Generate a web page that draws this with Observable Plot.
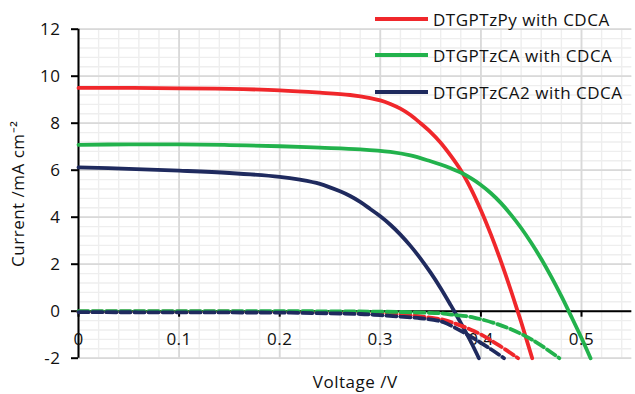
<!DOCTYPE html>
<html><head><meta charset="utf-8">
<script src="https://cdn.jsdelivr.net/npm/d3@7"></script>
<script src="https://cdn.jsdelivr.net/npm/@observablehq/plot@0.6"></script>
<style>
body{margin:0;background:#fff;}
#wrap{position:relative;width:635px;height:394px;font-family:"Open Sans",sans-serif;}
#wrap svg text{letter-spacing:0.5px;}
.leg{position:absolute;left:375px;height:36px;display:flex;align-items:center;font-size:17px;letter-spacing:0.5px;color:#111;white-space:nowrap;}
.leg .sw{display:inline-block;width:53px;height:4px;margin-right:5px;}
</style></head><body><div id="wrap"></div>
<script>
// Illuminated J-V curves (solid)
const redV   = [0, 0.05, 0.1, 0.15, 0.2, 0.24, 0.27, 0.29, 0.30, 0.31, 0.32, 0.33, 0.34, 0.35, 0.36, 0.37, 0.38, 0.39, 0.40, 0.41, 0.42, 0.43, 0.4365, 0.44, 0.451];
const redJ   = [9.5, 9.5, 9.48, 9.46, 9.40, 9.30, 9.2, 9.07, 8.97, 8.82, 8.62, 8.35, 8.0, 7.62, 7.17, 6.62, 6.0, 5.22, 4.30, 3.26, 2.11, 0.86, 0, -0.46, -2];
const greenV = [0, 0.05, 0.1, 0.15, 0.2, 0.24, 0.28, 0.31, 0.33, 0.35, 0.36, 0.37, 0.38, 0.39, 0.40, 0.41, 0.42, 0.43, 0.44, 0.45, 0.46, 0.47, 0.48, 0.49, 0.50, 0.509];
const greenJ = [7.08, 7.1, 7.1, 7.07, 7.02, 6.96, 6.89, 6.78, 6.63, 6.38, 6.24, 6.08, 5.9, 5.66, 5.37, 5.02, 4.6, 4.1, 3.54, 2.91, 2.22, 1.46, 0.64, -0.24, -1.14, -2];
const navyV  = [0, 0.05, 0.1, 0.15, 0.2, 0.22, 0.24, 0.26, 0.27, 0.28, 0.29, 0.30, 0.31, 0.32, 0.33, 0.34, 0.35, 0.36, 0.37, 0.3735, 0.38, 0.39, 0.398];
const navyJ  = [6.12, 6.06, 5.98, 5.88, 5.72, 5.6, 5.42, 5.1, 4.9, 4.65, 4.35, 4.04, 3.68, 3.26, 2.78, 2.24, 1.64, 0.98, 0.26, 0, -0.5, -1.3, -2];
// Dark J-V curves (dashed)
const redDarkV   = [0, 0.1, 0.2, 0.25, 0.3, 0.33, 0.353, 0.363, 0.393, 0.416, 0.437];
const redDarkJ   = [-0.02, -0.02, -0.03, -0.04, -0.08, -0.17, -0.3, -0.37, -0.84, -1.4, -2];
const greenDarkV = [0, 0.1, 0.2, 0.3, 0.343, 0.363, 0.372, 0.393, 0.426, 0.4526, 0.478];
const greenDarkJ = [0, 0, 0, -0.02, -0.06, -0.1, -0.15, -0.27, -0.7, -1.26, -2];
const navyDarkV  = [0, 0.1, 0.2, 0.22, 0.28, 0.30, 0.32, 0.34, 0.357, 0.363, 0.386, 0.41, 0.423];
const navyDarkJ  = [-0.04, -0.05, -0.06, -0.07, -0.12, -0.17, -0.23, -0.3, -0.4, -0.47, -0.98, -1.62, -2];

const seriesNames  = ["DTGPTzPy with CDCA", "DTGPTzCA with CDCA", "DTGPTzCA2 with CDCA"];
const seriesColors = ["#f0272b", "#22b24c", "#1f2a5e"];

const xTicks = [0, 0.1, 0.2, 0.3, 0.4, 0.5];
const xTickLabels = ["0", "0.1", "0.2", "0.3", "0.4", "0.5"];
const yTicks = [-2, 0, 2, 4, 6, 8, 10, 12];
const xLabel = "Voltage /V";
const yLabel = "Current /mA cm\u207B\u00B2";

const W = 635, H = 394, mt = 28.7, mb = 36.3, ml = 78, mr = 3.7;
const xDomain = [0, 0.55], yDomain = [-2, 12];
const xMinor = d3.range(0, 0.551, 0.02).map(v => +v.toFixed(2));
const yMinor = d3.range(-2, 12.01, 0.4).map(v => +v.toFixed(1));
const unitsPerPx = (yDomain[1] - yDomain[0]) / (H - mt - mb);

const toRows = (V, J) => V.map((v, i) => ({V: v, J: J[i]}));
const light = [[redV, redJ], [greenV, greenJ], [navyV, navyJ]];
const dark  = [[redDarkV, redDarkJ], [greenDarkV, greenDarkJ], [navyDarkV, navyDarkJ]];

const lineMarks = [];
light.forEach(([V, J], i) => lineMarks.push(Plot.line(toRows(V, J), {x: "V", y: "J", stroke: seriesColors[i], strokeWidth: 3.8, curve: "catmull-rom"})));
dark.forEach(([V, J], i) => lineMarks.push(Plot.line(toRows(V, J), {x: "V", y: "J", stroke: seriesColors[i], strokeWidth: 3.8, strokeDasharray: "10,4", curve: "catmull-rom"})));

const FS = 17;
const chart = Plot.plot({
  width: W, height: H, marginTop: mt, marginBottom: mb, marginLeft: ml, marginRight: mr,
  style: {fontFamily: "Open Sans, sans-serif", fontSize: FS + "px", color: "#111", background: "#fff"},
  x: {domain: xDomain, axis: null},
  y: {domain: yDomain, label: null},
  marks: [
    Plot.ruleX(xMinor, {stroke: "#eeeeee", strokeWidth: 1.4}),
    Plot.ruleY(yMinor, {stroke: "#eeeeee", strokeWidth: 1.4}),
    Plot.ruleX(xTicks, {stroke: "#d9d9d9", strokeWidth: 1.8}),
    Plot.ruleY(yTicks, {stroke: "#d9d9d9", strokeWidth: 1.8}),
    Plot.ruleY([0], {stroke: "#000", strokeWidth: 2}),
    Plot.ruleX([0], {stroke: "#000", strokeWidth: 2}),
    Plot.axisY({ticks: yTicks, tickSize: 7, tickPadding: 11, tickFormat: d => String(d), label: null, strokeWidth: 2, stroke: "#000", fill: "#111", fontSize: FS}),
    Plot.ruleX(xTicks, {x: d => d, y1: 0, y2: -6 * unitsPerPx, stroke: "#000", strokeWidth: 2}),
    Plot.text(xTicks, {x: d => d, y: 0, dy: 28, text: (d, i) => xTickLabels[i], fill: "#111", fontSize: FS}),
    ...lineMarks,
    Plot.text([xLabel], {frameAnchor: "bottom", lineAnchor: "middle", textAnchor: "middle", dy: 24.5, text: d => d, fill: "#111", fontSize: FS}),
    Plot.text([yLabel], {frameAnchor: "left", textAnchor: "middle", lineAnchor: "middle", dx: -60, rotate: -90, text: d => d, fill: "#111", fontSize: FS})
  ]
});
const wrap = document.getElementById("wrap");
wrap.appendChild(chart);

const legendCenters = [19, 55, 92];
seriesNames.forEach((name, i) => {
  const row = document.createElement("div");
  row.className = "leg";
  row.style.top = (legendCenters[i] - 18) + "px";
  const sw = document.createElement("span");
  sw.className = "sw";
  sw.style.background = seriesColors[i];
  const t = document.createElement("span");
  t.textContent = name;
  row.appendChild(sw); row.appendChild(t);
  wrap.appendChild(row);
});
</script></body></html>
